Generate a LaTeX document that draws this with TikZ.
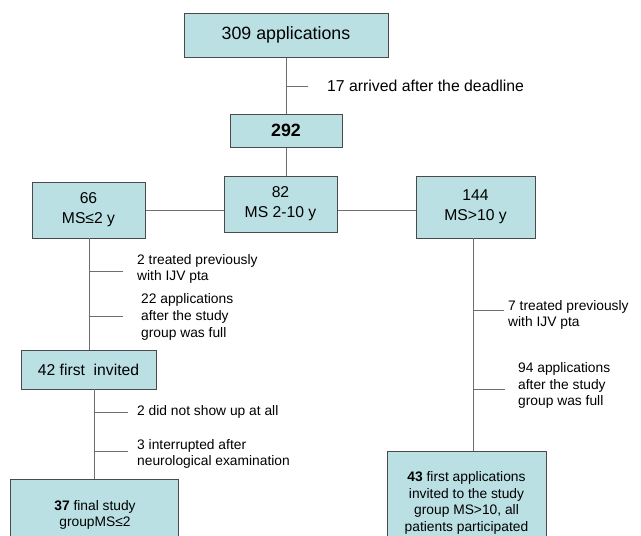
\documentclass[tikz,border=0pt]{standalone}
\usepackage{fontspec}
\setmainfont{Liberation Sans}
\definecolor{boxfill}{HTML}{BAE0E4}
\definecolor{boxline}{HTML}{4A4A4A}
\definecolor{conn}{HTML}{6E6E6E}
\tikzset{
  fbox/.style={draw=boxline, fill=boxfill, line width=1pt, inner sep=0pt, align=center},
  big/.style={font=\fontsize{17.8}{21}\selectfont},
  mid/.style={font=\fontsize{15.7}{20}\selectfont},
  small/.style={font=\fontsize{13.8}{16.6}\selectfont},
  note/.style={small, anchor=west, align=left, inner sep=0pt},
  link/.style={draw=conn, line width=1pt},
}
\begin{document}
\begin{tikzpicture}[x=1pt, y=-1pt]
\useasboundingbox (0,0) rectangle (641,536);
\clip (0,0) rectangle (641,536);
% boxes
\node[fbox, big, minimum width=204pt, minimum height=44pt] (b309) at (286,35) {309 applications};
\node[fbox, big, minimum width=112pt, minimum height=33pt] (b292) at (286,130.5) {\textbf{292}};
\node[fbox, mid, minimum width=113pt, minimum height=56pt] (b82) at (280.5,204) {82\\MS 2-10 y};
\node[fbox, mid, minimum width=113pt, minimum height=56pt] (b66) at (88.5,210) {66\\MS≤2 y};
\node[fbox, mid, minimum width=119pt, minimum height=62pt] (b144) at (475.5,207) {144\\MS>10 y};
\node[fbox, mid, minimum width=135pt, minimum height=39pt] (b42) at (88.5,369.5) {42 first\ \ invited};
\node[fbox, small, minimum width=168pt, minimum height=70pt, anchor=north] (b37) at (94,479) {};
\node[fbox, small, minimum width=159pt, minimum height=100pt, anchor=north] (b43) at (466.5,451) {};
% texts inside bottom boxes
\node[small, align=center, inner sep=0pt] (t37) at (95,515) {\textbf{37} final study\\groupMS≤2};
\node[small, align=center, inner sep=0pt] (t43) at (466.5,503) {\textbf{43} first applications\\invited to the study\\group MS>10, all\\patients participated};
% main connectors
\draw[link] (b309.south) -- (b292.north);
\draw[link] (b292.south) -- (b292.south |- b82.north);
\draw[link] (b66.east) -- (b82.west |- b66.east);
\draw[link] (b82.east |- b66.east) -- (b144.west |- b66.east);
\coordinate (v66) at (89,238);
\coordinate (v66b) at (89,350);
\draw[link] (v66) -- (v66b);
\coordinate (v42) at (94,389);
\coordinate (v42b) at (94,479);
\draw[link] (v42) -- (v42b);
\coordinate (v144) at (473,238);
\coordinate (v144b) at (473,451);
\draw[link] (v144) -- (v144b);
% ticks
\coordinate (k1a) at (286,86);  \coordinate (k1b) at (308,86);
\coordinate (k2a) at (89,271);  \coordinate (k2b) at (123,271);
\coordinate (k3a) at (89,316);  \coordinate (k3b) at (123,316);
\coordinate (k4a) at (94,412);  \coordinate (k4b) at (128,412);
\coordinate (k5a) at (94,451);  \coordinate (k5b) at (128,451);
\coordinate (k6a) at (473,310); \coordinate (k6b) at (504,310);
\coordinate (k7a) at (473,389); \coordinate (k7b) at (505,389);
\foreach \k in {1,...,7} {\draw[link] (k\k a) -- (k\k b);}
% notes
\node[note, font=\fontsize{15.8}{19}\selectfont] (n1) at (327,86) {17 arrived after the deadline};
\node[note] (n2) at (137,269) {2 treated previously\\with IJV pta};
\node[note] (n3) at (141,317) {22 applications\\after the study\\group was full};
\node[note] (n4) at (137,412) {2 did not show up at all};
\node[note] (n5) at (137,454) {3 interrupted after\\neurological examination};
\node[note] (n6) at (508,315) {7 treated previously\\with IJV pta};
\node[note] (n7) at (518,385.5) {94 applications\\after the study\\group was full};
\end{tikzpicture}
\end{document}
